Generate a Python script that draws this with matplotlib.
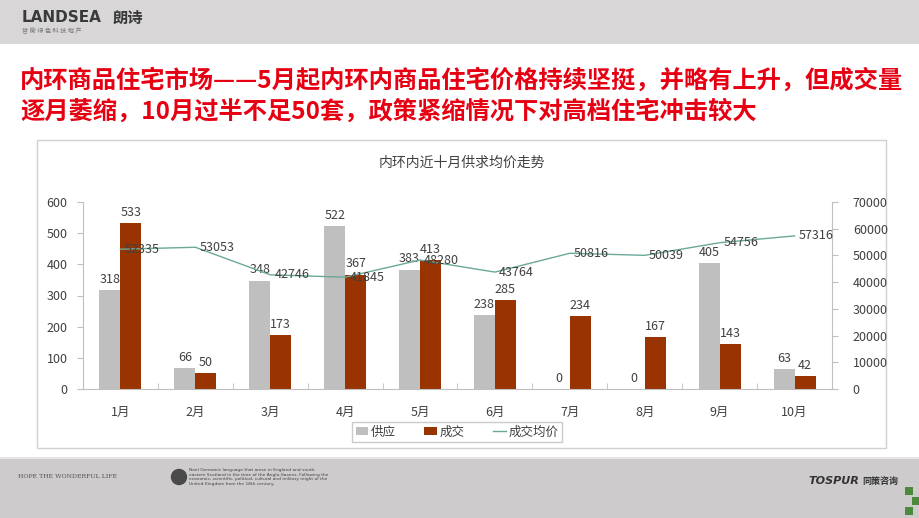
import numpy as np
import matplotlib.pyplot as plt
from matplotlib.patches import Rectangle, Ellipse
from matplotlib.lines import Line2D

plt.rcParams['font.family'] = ['Noto Sans CJK SC', 'DejaVu Sans']

# dati
months = ["1月", "2月", "3月", "4月", "5月", "6月", "7月", "8月", "9月", "10月"]
supply = [318, 66, 348, 522, 383, 238, 0, 0, 405, 63]
deals = [533, 50, 173, 367, 413, 285, 234, 167, 143, 42]
avg_price = [52335, 53053, 42746, 41845, 48280, 43764, 50816, 50039, 54756, 57316]

W, H = 920, 518
fig = plt.figure(figsize=(W / 100, H / 100), dpi=100)
fig.patch.set_facecolor("white")

def fx(px):
    return px / W

def fy(py):
    return 1 - py / H

# header e footer grigi
fig.add_artist(Rectangle((0, fy(44)), 1, 44 / H, transform=fig.transFigure,
                         facecolor="#d8d6d6", edgecolor="none", zorder=-2))
fig.add_artist(Rectangle((0, 0), 1, fy(458), transform=fig.transFigure,
                         facecolor="#cdcbcb", edgecolor="none", zorder=-2))
fig.add_artist(Line2D([0, 1], [fy(458), fy(458)], transform=fig.transFigure,
                      color="#e6e6e6", lw=1.5, zorder=-1))

# logo
fig.text(fx(22), fy(18), "LANDSEA", fontsize=11, weight="bold", color="#3a3a3a",
         va="center", ha="left", family="DejaVu Sans")
fig.text(fx(113), fy(18), "朗诗", fontsize=11, weight="bold", color="#3a3a3a",
         va="center", ha="left")
fig.text(fx(22), fy(31), "哲 衡 绿 色 科 技 地 产", fontsize=4.5, color="#777777",
         va="center", ha="left")

# titolo rosso
title1 = "内环商品住宅市场——5月起内环内商品住宅价格持续坚挺，并略有上升，但成交量"
title2 = "逐月萎缩，10月过半不足50套，政策紧缩情况下对高档住宅冲击较大"
fig.text(fx(20), fy(80), title1, fontsize=17.5, weight="bold", color="#e60012",
         va="center", ha="left")
fig.text(fx(20), fy(111), title2, fontsize=17.5, weight="bold", color="#e60012",
         va="center", ha="left")

# riquadro del grafico
fig.add_artist(Rectangle((fx(37), fy(448)), fx(886 - 37), (448 - 140) / H,
                         transform=fig.transFigure, facecolor="white",
                         edgecolor="#d0d0d0", lw=1, zorder=-1))
fig.text(fx(462), fy(163), "内环内近十月供求均价走势", fontsize=10, color="#404040",
         ha="center", va="center")

ax = fig.add_axes([fx(83), fy(389), fx(832 - 83), (389 - 202) / H])
ax.set_facecolor("none")
x = np.arange(len(months))
bw = 0.28
b1 = ax.bar(x - bw / 2, supply, bw, color="#bfbfbf", label="供应", zorder=2)
b2 = ax.bar(x + bw / 2, deals, bw, color="#993300", label="成交", zorder=2)
ax.bar_label(b1, padding=3, fontsize=9, color="#404040")
ax.bar_label(b2, padding=3, fontsize=9, color="#404040")
ax.set_xlim(-0.5, len(months) - 0.5)
ax.set_ylim(0, 600)
ax.set_yticks(range(0, 601, 100))
ax.set_xticks(x)
ax.set_xticklabels(months)
ax.tick_params(axis="x", length=0, pad=12, labelsize=9, labelcolor="#404040")
ax.set_xticks(np.arange(-0.5, len(months), 1), minor=True)
ax.tick_params(axis="x", which="minor", length=4, direction="in", color="#bfbfbf")
ax.tick_params(axis="y", length=4, color="#bfbfbf", labelsize=9, labelcolor="#404040", pad=7)
for s in ["top", "right"]:
    ax.spines[s].set_visible(False)
ax.spines["left"].set_color("#bfbfbf")
ax.spines["bottom"].set_color("#bfbfbf")

ax2 = ax.twinx()
line, = ax2.plot(x, avg_price, color="#6aa89a", lw=1, label="成交均价", zorder=3)
for xi, v in zip(x, avg_price):
    ax2.annotate(str(v), (xi, v), xytext=(3, 0), textcoords="offset points",
                 ha="left", va="center", fontsize=9, color="#404040")
ax2.set_ylim(0, 70000)
ax2.set_yticks(range(0, 70001, 10000))
ax2.tick_params(axis="y", length=4, color="#bfbfbf", labelsize=9, labelcolor="#404040", pad=11)
for s in ["top", "left", "bottom"]:
    ax2.spines[s].set_visible(False)
ax2.spines["right"].set_color("#bfbfbf")

leg = fig.legend([b1, b2, line], ["供应", "成交", "成交均价"], loc="center",
                 bbox_to_anchor=(fx(457), fy(432)), ncol=3, fontsize=9,
                 frameon=True, fancybox=False, edgecolor="#bfbfbf",
                 handlelength=1.0, handleheight=0.6, columnspacing=2.3,
                 borderpad=0.3, handletextpad=0.2)
for t in leg.get_texts():
    t.set_color("#404040")

# footer
fig.text(fx(18), fy(476), "HOPE THE WONDERFUL LIFE", fontsize=4.5, color="#555555",
         family="DejaVu Serif", va="center")
fig.add_artist(Ellipse((fx(179), fy(477)), 15 / W, 15 / H, transform=fig.transFigure,
                       color="#4a4a4a"))
fig.text(fx(189), fy(477),
         "Noel Germanic language that arose in England and south-\n"
         "eastern Scotland in the time of the Anglo-Saxons. Following the\n"
         "economic, scientific, political, cultural and military might of the\n"
         "United Kingdom from the 18th century.",
         fontsize=3.2, color="#444444", va="center", ha="left", linespacing=1.3,
         family="DejaVu Sans")
fig.text(fx(808), fy(481), "TOSPUR", fontsize=8, weight="bold", style="italic",
         color="#333333", va="center", ha="left", family="DejaVu Sans")
fig.text(fx(862), fy(481), "同策咨询", fontsize=6.5, weight="bold", color="#333333",
         va="center", ha="left")
for (px, py) in [(905, 487), (912, 497), (905, 507)]:
    fig.add_artist(Rectangle((fx(px), fy(py + 8)), 8 / W, 8 / H,
                             transform=fig.transFigure, facecolor="#4a8a3a",
                             edgecolor="none"))

fig.savefig("out.png", dpi=100)
